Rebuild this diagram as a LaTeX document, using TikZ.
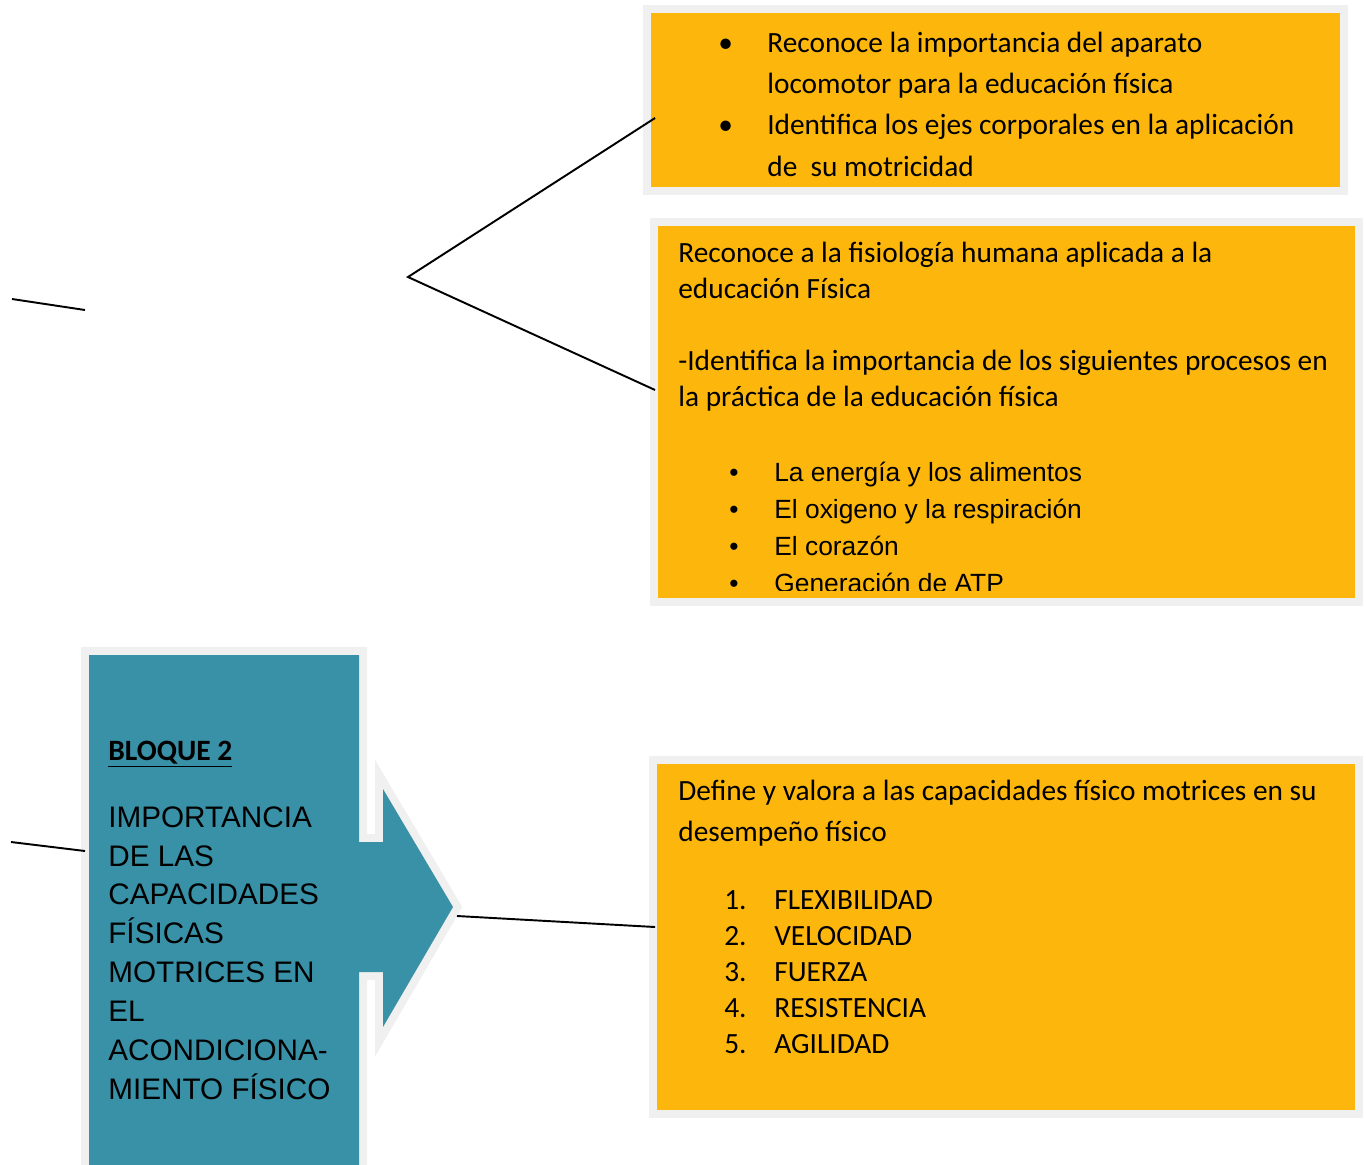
\documentclass[tikz,border=0pt]{standalone}
\usepackage{fontspec}
\setmainfont{Carlito}
\newfontfamily\arialfont{Liberation Sans}
\usetikzlibrary{calc}
\definecolor{amber}{RGB}{253,183,12}
\definecolor{tealbox}{RGB}{57,145,167}
\definecolor{rim}{RGB}{240,240,240}
\newlength{\px}\setlength{\px}{0.02cm}
\newcommand{\bul}[1]{\makebox[#1\px][l]{\textbullet}}
\tikzset{
  card/.style={draw=rim,fill=amber,line width=0.16cm,inner sep=0pt},
  txt/.style={anchor=base west,align=left,inner sep=0pt},
  cal/.style={txt,font=\fontsize{16.7}{23.4}\selectfont},
  ari/.style={txt,font=\arialfont\fontsize{15}{21}\selectfont},
  ln/.style={line width=1.1pt},
}

\begin{document}
\begin{tikzpicture}[x=0.02cm, y=-0.02cm]
  \clip (0,0) rectangle (1366,1164);
  % orange boxes
  \node[card, minimum width=13.94cm, minimum height=3.64cm] (obj1) at (995.5,100) {};
  \node[card, minimum width=14.1cm, minimum height=7.6cm] (obj2) at (1006.5,412) {};
  \node[card, minimum width=14.12cm, minimum height=7.08cm] (obj3) at (1006,937) {};
  % block callout
  \path[fill=tealbox, preaction={draw=rim,line width=0.32cm}]
    (89,1190) -- (89,655) -- (359,655) -- (359,842) -- (383,842) -- (383,789)
    -- (453,907) -- (383,1027) -- (383,972) -- (359,972) -- (359,1190) -- cycle;
  \coordinate (tip) at (457,916);
  % texts (anchored at the baseline of their last line)
  \node[cal] (t1) at (718,176) {\bul{49}Reconoce la importancia del aparato\\
    \hspace*{49\px}locomotor para la educación física\\
    \bul{49}Identifica los ejes corporales en la aplicación\\
    \hspace*{49\px}de\ \ su motricidad};
  \node[cal, font=\fontsize{16.7}{20.4}\selectfont] (t2) at (678,406)
    {Reconoce a la fisiología humana aplicada a la\\
     educación Física\\[20.4pt]
     -Identifica la importancia de los siguientes procesos en\\
     la práctica de la educación física};
  \begin{scope}
    \clip (658,226) rectangle (1355,590);
    \node[ari] (t3) at (729,592) {\bul{45}La energía y los alimentos\\
      \bul{45}El oxigeno y la respiración\\
      \bul{45}El corazón\\
      \bul{45}Generación de ATP};
  \end{scope}
  \node[cal, font=\fontsize{16.7}{23.2}\selectfont] (t4) at (678,841)
    {Define y valora a las capacidades físico motrices en su\\desempeño físico};
  \node[cal, font=\fontsize{16.7}{20.4}\selectfont] (t5) at (724,1053)
    {\makebox[50\px][l]{1.}FLEXIBILIDAD\\
     \makebox[50\px][l]{2.}VELOCIDAD\\
     \makebox[50\px][l]{3.}FUERZA\\
     \makebox[50\px][l]{4.}RESISTENCIA\\
     \makebox[50\px][l]{5.}AGILIDAD};
  \node[cal, font=\bfseries\fontsize{16.8}{20}\selectfont] (hd) at (108,760) {\underline{BLOQUE 2}};
  \node[ari, font=\arialfont\fontsize{16.9}{22.1}\selectfont] (bt) at (108,1099)
    {IMPORTANCIA\\DE LAS\\CAPACIDADES\\FÍSICAS\\MOTRICES EN\\EL\\ACONDICIONA-\\MIENTO FÍSICO};
  % connectors
  \coordinate (fork) at (408,277);
  \draw[ln] ($(obj1.west)+(12,18)$) -- (fork) -- ($(obj2.west)+(5,-22)$);
  \draw[ln] (tip) -- ($(obj3.west)+(6,-10)$);
  \coordinate (a1) at (12,299);
  \coordinate (a2) at (85,310);
  \draw[ln] (a1) -- (a2);
  \coordinate (b1) at (11,842);
  \coordinate (b2) at (85,851);
  \draw[ln] (b1) -- (b2);
\end{tikzpicture}
\end{document}
